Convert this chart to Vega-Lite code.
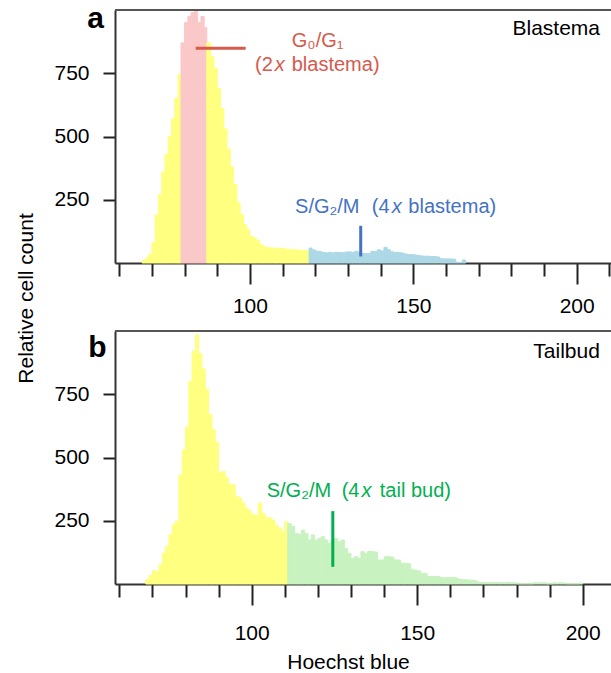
{
  "$schema": "https://vega.github.io/schema/vega-lite/v6.json",
  "padding": {"left": 15, "top": 4, "right": 0, "bottom": 0},
  "bounds": "flush",
  "spacing": 68,
  "config": {
    "font": "Liberation Sans",
    "view": {"stroke": null},
    "axis": {"grid": false, "labelFont": "Liberation Sans", "labelFontSize": 21, "labelColor": "#000", "titleFont": "Liberation Sans", "titleFontSize": 21, "titleFontWeight": "normal", "titleColor": "#000", "domainColor": "#333", "domainWidth": 2, "tickColor": "#222", "tickWidth": 2}
  },
  "resolve": {"scale": {"x": "independent", "y": "independent", "color": "independent", "stroke": "independent"}},
  "vconcat": [
    {
      "width": 496,
      "height": 253,
      "encoding": {
        "x": {"field": "x", "type": "quantitative", "scale": {"domain": [58.7, 210.5], "nice": false, "zero": false},
          "axis": {"values": [60,70,80,90,100,110,120,130,140,150,160,170,180,190,200,210], "format": "d",
            "labelExpr": "datum.value % 50 === 0 ? datum.label : ''",
            "tickSize": {"condition": {"test": "datum.value % 50 === 0", "value": 21}, "value": 13},
            "labelPadding": 11, "labelDx": -4, "title": null}},
        "y": {"field": "y", "type": "quantitative", "scale": {"domain": [0, 1000], "nice": false},
          "axis": {"values": [250, 500, 750], "tickSize": 12, "labelPadding": 14,
            "title": "Relative cell count", "titleX": -83, "titleY": 288, "titleAngle": 270, "titleAlign": "center", "titleBaseline": "alphabetic"}}
      },
      "layer": [
        {
          "data": {"values": [
            {"x":67,"x2":68,"y":10,"p":"other"},{"x":68,"x2":69,"y":20,"p":"other"},{"x":69,"x2":70,"y":34,"p":"other"},{"x":70,"x2":71,"y":80,"p":"other"},
            {"x":71,"x2":72,"y":190,"p":"other"},{"x":72,"x2":73,"y":271,"p":"other"},{"x":73,"x2":74,"y":360,"p":"other"},{"x":74,"x2":75,"y":430,"p":"other"},
            {"x":75,"x2":76,"y":500,"p":"other"},{"x":76,"x2":77,"y":570,"p":"other"},{"x":77,"x2":78,"y":650,"p":"other"},{"x":78,"x2":78.9,"y":745,"p":"other"},
            {"x":78.9,"x2":80,"y":870,"p":"G0/G1"},{"x":80,"x2":81,"y":950,"p":"G0/G1"},{"x":81,"x2":82,"y":975,"p":"G0/G1"},{"x":82,"x2":83,"y":990,"p":"G0/G1"},
            {"x":83,"x2":84,"y":995,"p":"G0/G1"},{"x":84,"x2":85,"y":950,"p":"G0/G1"},{"x":85,"x2":86,"y":975,"p":"G0/G1"},{"x":86,"x2":86.8,"y":930,"p":"G0/G1"},
            {"x":86.8,"x2":88,"y":870,"p":"other"},{"x":88,"x2":89,"y":815,"p":"other"},{"x":89,"x2":90,"y":770,"p":"other"},{"x":90,"x2":91,"y":690,"p":"other"},
            {"x":91,"x2":92,"y":610,"p":"other"},{"x":92,"x2":93,"y":530,"p":"other"},{"x":93,"x2":94,"y":450,"p":"other"},{"x":94,"x2":95,"y":380,"p":"other"},
            {"x":95,"x2":96,"y":310,"p":"other"},{"x":96,"x2":97,"y":240,"p":"other"},{"x":97,"x2":98,"y":192,"p":"other"},{"x":98,"x2":99,"y":152,"p":"other"},
            {"x":99,"x2":100,"y":131,"p":"other"},{"x":100,"x2":101,"y":105,"p":"other"},{"x":101,"x2":102,"y":99,"p":"other"},{"x":102,"x2":103,"y":88,"p":"other"},
            {"x":103,"x2":104,"y":72,"p":"other"},{"x":104,"x2":105,"y":64,"p":"other"},{"x":105,"x2":106,"y":62,"p":"other"},{"x":106,"x2":107,"y":59,"p":"other"},
            {"x":107,"x2":108,"y":59,"p":"other"},{"x":108,"x2":109,"y":58,"p":"other"},{"x":109,"x2":110,"y":58,"p":"other"},{"x":110,"x2":111,"y":57,"p":"other"},
            {"x":111,"x2":112,"y":53,"p":"other"},{"x":112,"x2":113,"y":53,"p":"other"},{"x":113,"x2":114,"y":52,"p":"other"},{"x":114,"x2":115,"y":52,"p":"other"},
            {"x":115,"x2":116,"y":50,"p":"other"},{"x":116,"x2":117,"y":50,"p":"other"},{"x":117,"x2":118.1,"y":50,"p":"other"},
            {"x":118.1,"x2":119,"y":59,"p":"S/G2/M"},{"x":119,"x2":120,"y":52,"p":"S/G2/M"},{"x":120,"x2":121,"y":47,"p":"S/G2/M"},{"x":121,"x2":122,"y":45,"p":"S/G2/M"},
            {"x":122,"x2":123,"y":42,"p":"S/G2/M"},{"x":123,"x2":124,"y":40,"p":"S/G2/M"},{"x":124,"x2":125,"y":42,"p":"S/G2/M"},{"x":125,"x2":126,"y":40,"p":"S/G2/M"},
            {"x":126,"x2":127,"y":42,"p":"S/G2/M"},{"x":127,"x2":128,"y":42,"p":"S/G2/M"},{"x":128,"x2":129,"y":41,"p":"S/G2/M"},{"x":129,"x2":130,"y":43,"p":"S/G2/M"},
            {"x":130,"x2":131,"y":44,"p":"S/G2/M"},{"x":131,"x2":132,"y":42,"p":"S/G2/M"},{"x":132,"x2":133,"y":46,"p":"S/G2/M"},{"x":133,"x2":134,"y":43,"p":"S/G2/M"},
            {"x":134,"x2":135,"y":38,"p":"S/G2/M"},{"x":135,"x2":136,"y":37,"p":"S/G2/M"},{"x":136,"x2":137,"y":37,"p":"S/G2/M"},{"x":137,"x2":138,"y":46,"p":"S/G2/M"},
            {"x":138,"x2":139,"y":46,"p":"S/G2/M"},{"x":139,"x2":140,"y":52,"p":"S/G2/M"},{"x":140,"x2":141,"y":48,"p":"S/G2/M"},{"x":141,"x2":142,"y":62,"p":"S/G2/M"},
            {"x":142,"x2":143,"y":52,"p":"S/G2/M"},{"x":143,"x2":144,"y":44,"p":"S/G2/M"},{"x":144,"x2":145,"y":42,"p":"S/G2/M"},{"x":145,"x2":146,"y":42,"p":"S/G2/M"},
            {"x":146,"x2":147,"y":40,"p":"S/G2/M"},{"x":147,"x2":148,"y":36,"p":"S/G2/M"},{"x":148,"x2":149,"y":33,"p":"S/G2/M"},{"x":149,"x2":150,"y":33,"p":"S/G2/M"},
            {"x":150,"x2":151,"y":32,"p":"S/G2/M"},{"x":151,"x2":152,"y":30,"p":"S/G2/M"},{"x":152,"x2":153,"y":28,"p":"S/G2/M"},{"x":153,"x2":154,"y":27,"p":"S/G2/M"},
            {"x":154,"x2":155,"y":27,"p":"S/G2/M"},{"x":155,"x2":156,"y":26,"p":"S/G2/M"},{"x":156,"x2":157,"y":26,"p":"S/G2/M"},{"x":157,"x2":158,"y":24,"p":"S/G2/M"},
            {"x":158,"x2":159,"y":17,"p":"S/G2/M"},{"x":159,"x2":160,"y":16,"p":"S/G2/M"},{"x":160,"x2":161,"y":16,"p":"S/G2/M"},{"x":161,"x2":162,"y":16,"p":"S/G2/M"},
            {"x":162,"x2":163,"y":15,"p":"S/G2/M"},{"x":163,"x2":164,"y":3,"p":"S/G2/M"},{"x":164,"x2":165,"y":2,"p":"S/G2/M"},{"x":165,"x2":166,"y":12,"p":"S/G2/M"}
          ]},
          "mark": {"type": "bar", "strokeWidth": 1},
          "encoding": {
            "x2": {"field": "x2"},
            "y2": {"datum": 0},
            "color": {"field": "p", "type": "nominal", "legend": null, "scale": {"domain": ["other", "G0/G1", "S/G2/M"], "range": ["#FFFF80", "#FAC8C8", "#ADD8E6"]}},
            "stroke": {"field": "p", "type": "nominal", "legend": null, "scale": {"domain": ["other", "G0/G1", "S/G2/M"], "range": ["#FFFF80", "#FAC8C8", "#ADD8E6"]}}
          }
        },
        {
          "data": {"values": [{"x": 58.7, "x2": 210.5, "y": 1000}]},
          "mark": {"type": "rule", "color": "#555", "strokeWidth": 2},
          "encoding": {"x2": {"field": "x2"}}
        },
        {
          "data": {"values": [{"x": 83.4, "x2": 98.7, "y": 849}]},
          "mark": {"type": "rule", "color": "#D65A4C", "strokeWidth": 3},
          "encoding": {"x2": {"field": "x2"}}
        },
        {
          "data": {"values": [{"x": 133.9, "y": 147, "y2": 26}]},
          "mark": {"type": "rule", "color": "#4472C4", "strokeWidth": 3},
          "encoding": {"y2": {"field": "y2"}}
        },
        {
          "data": {"values": [{"x": 112.8, "y": 854, "t": "G₀/G₁"}, {"x": 101.55, "y": 759, "t": "(2"}, {"x": 112.79, "y": 759, "t": "blastema)"}]},
          "mark": {"type": "text", "align": "left", "baseline": "alphabetic", "fontSize": 20, "color": "#D65A4C"},
          "encoding": {"text": {"field": "t"}}
        },
        {
          "data": {"values": [{"x": 107.6, "y": 759, "t": "x"}]},
          "mark": {"type": "text", "align": "left", "baseline": "alphabetic", "fontSize": 20, "fontStyle": "italic", "color": "#D65A4C"},
          "encoding": {"text": {"field": "t"}}
        },
        {
          "data": {"values": [{"x": 113.8, "y": 198.6, "t": "S/G₂/M"}, {"x": 137.27, "y": 198.6, "t": "(4"}, {"x": 148.48, "y": 198.6, "t": "blastema)"}]},
          "mark": {"type": "text", "align": "left", "baseline": "alphabetic", "fontSize": 20, "color": "#4472C4"},
          "encoding": {"text": {"field": "t"}}
        },
        {
          "data": {"values": [{"x": 143.4, "y": 198.6, "t": "x"}]},
          "mark": {"type": "text", "align": "left", "baseline": "alphabetic", "fontSize": 20, "fontStyle": "italic", "color": "#4472C4"},
          "encoding": {"text": {"field": "t"}}
        },
        {
          "data": {"values": [{"x": 207.15, "y": 901, "t": "Blastema"}]},
          "mark": {"type": "text", "align": "right", "baseline": "alphabetic", "fontSize": 21, "color": "#000"},
          "encoding": {"text": {"field": "t"}}
        },
        {
          "data": {"values": [{"x": 50.2, "y": 928, "t": "a"}]},
          "mark": {"type": "text", "align": "left", "baseline": "alphabetic", "fontSize": 30, "fontWeight": "bold", "color": "#000"},
          "encoding": {"text": {"field": "t"}}
        }
      ]
    },
    {
      "width": 496,
      "height": 253,
      "encoding": {
        "x": {"field": "x", "type": "quantitative", "scale": {"domain": [58.7, 208.55], "nice": false, "zero": false},
          "axis": {"values": [60,70,80,90,100,110,120,130,140,150,160,170,180,190,200], "format": "d",
            "labelExpr": "datum.value % 50 === 0 ? datum.label : ''",
            "tickSize": {"condition": {"test": "datum.value % 50 === 0", "value": 21}, "value": 13},
            "labelPadding": 17, "labelDx": -4,
            "title": "Hoechst blue", "titleX": 233, "titleY": 84, "titleAlign": "center", "titleBaseline": "alphabetic"}},
        "y": {"field": "y", "type": "quantitative", "scale": {"domain": [0, 1000], "nice": false},
          "axis": {"values": [250, 500, 750], "tickSize": 12, "labelPadding": 14, "title": null}}
      },
      "layer": [
        {
          "data": {"values": [
            {"x":68,"x2":69,"y":17,"p":"other"},{"x":69,"x2":70,"y":34,"p":"other"},{"x":70,"x2":71,"y":53,"p":"other"},{"x":71,"x2":72,"y":48,"p":"other"},
            {"x":72,"x2":73,"y":76,"p":"other"},{"x":73,"x2":74,"y":122,"p":"other"},{"x":74,"x2":75,"y":149,"p":"other"},{"x":75,"x2":76,"y":195,"p":"other"},
            {"x":76,"x2":77,"y":234,"p":"other"},{"x":77,"x2":78,"y":248,"p":"other"},{"x":78,"x2":79,"y":430,"p":"other"},{"x":79,"x2":80,"y":530,"p":"other"},
            {"x":80,"x2":81,"y":620,"p":"other"},{"x":81,"x2":82,"y":800,"p":"other"},{"x":82,"x2":83,"y":920,"p":"other"},{"x":83,"x2":84,"y":985,"p":"other"},
            {"x":84,"x2":85,"y":910,"p":"other"},{"x":85,"x2":86,"y":850,"p":"other"},{"x":86,"x2":87,"y":770,"p":"other"},{"x":87,"x2":88,"y":670,"p":"other"},
            {"x":88,"x2":89,"y":610,"p":"other"},{"x":89,"x2":90,"y":560,"p":"other"},{"x":90,"x2":91,"y":440,"p":"other"},{"x":91,"x2":92,"y":445,"p":"other"},
            {"x":92,"x2":93,"y":420,"p":"other"},{"x":93,"x2":94,"y":392,"p":"other"},{"x":94,"x2":95,"y":392,"p":"other"},{"x":95,"x2":96,"y":347,"p":"other"},
            {"x":96,"x2":97,"y":340,"p":"other"},{"x":97,"x2":98,"y":320,"p":"other"},{"x":98,"x2":99,"y":300,"p":"other"},{"x":99,"x2":100,"y":288,"p":"other"},
            {"x":100,"x2":101,"y":275,"p":"other"},{"x":101,"x2":102,"y":270,"p":"other"},{"x":102,"x2":103,"y":320,"p":"other"},{"x":103,"x2":104,"y":279,"p":"other"},
            {"x":104,"x2":105,"y":262,"p":"other"},{"x":105,"x2":106,"y":262,"p":"other"},{"x":106,"x2":107,"y":253,"p":"other"},{"x":107,"x2":108,"y":233,"p":"other"},
            {"x":108,"x2":109,"y":220,"p":"other"},{"x":109,"x2":110,"y":207,"p":"other"},{"x":110,"x2":110.9,"y":246,"p":"other"},
            {"x":110.9,"x2":112,"y":238,"p":"S/G2/M"},{"x":112,"x2":113,"y":228,"p":"S/G2/M"},{"x":113,"x2":114,"y":200,"p":"S/G2/M"},{"x":114,"x2":115,"y":196,"p":"S/G2/M"},
            {"x":115,"x2":116,"y":213,"p":"S/G2/M"},{"x":116,"x2":117,"y":200,"p":"S/G2/M"},{"x":117,"x2":118,"y":174,"p":"S/G2/M"},{"x":118,"x2":119,"y":194,"p":"S/G2/M"},
            {"x":119,"x2":120,"y":174,"p":"S/G2/M"},{"x":120,"x2":121,"y":180,"p":"S/G2/M"},{"x":121,"x2":122,"y":187,"p":"S/G2/M"},{"x":122,"x2":123,"y":174,"p":"S/G2/M"},
            {"x":123,"x2":124,"y":161,"p":"S/G2/M"},{"x":124,"x2":125,"y":170,"p":"S/G2/M"},{"x":125,"x2":126,"y":180,"p":"S/G2/M"},{"x":126,"x2":127,"y":167,"p":"S/G2/M"},
            {"x":127,"x2":128,"y":174,"p":"S/G2/M"},{"x":128,"x2":129,"y":141,"p":"S/G2/M"},{"x":129,"x2":130,"y":121,"p":"S/G2/M"},{"x":130,"x2":131,"y":101,"p":"S/G2/M"},
            {"x":131,"x2":132,"y":108,"p":"S/G2/M"},{"x":132,"x2":133,"y":101,"p":"S/G2/M"},{"x":133,"x2":134,"y":128,"p":"S/G2/M"},{"x":134,"x2":135,"y":121,"p":"S/G2/M"},
            {"x":135,"x2":136,"y":128,"p":"S/G2/M"},{"x":136,"x2":137,"y":128,"p":"S/G2/M"},{"x":137,"x2":138,"y":126,"p":"S/G2/M"},{"x":138,"x2":139,"y":95,"p":"S/G2/M"},
            {"x":139,"x2":140,"y":95,"p":"S/G2/M"},{"x":140,"x2":141,"y":108,"p":"S/G2/M"},{"x":141,"x2":142,"y":108,"p":"S/G2/M"},{"x":142,"x2":143,"y":106,"p":"S/G2/M"},
            {"x":143,"x2":144,"y":95,"p":"S/G2/M"},{"x":144,"x2":145,"y":95,"p":"S/G2/M"},{"x":145,"x2":146,"y":82,"p":"S/G2/M"},{"x":146,"x2":147,"y":82,"p":"S/G2/M"},
            {"x":147,"x2":148,"y":80,"p":"S/G2/M"},{"x":148,"x2":149,"y":58,"p":"S/G2/M"},{"x":149,"x2":150,"y":55,"p":"S/G2/M"},{"x":150,"x2":151,"y":52,"p":"S/G2/M"},
            {"x":151,"x2":152,"y":43,"p":"S/G2/M"},{"x":152,"x2":153,"y":42,"p":"S/G2/M"},{"x":153,"x2":154,"y":30,"p":"S/G2/M"},{"x":154,"x2":155,"y":30,"p":"S/G2/M"},
            {"x":155,"x2":156,"y":30,"p":"S/G2/M"},{"x":156,"x2":157,"y":29,"p":"S/G2/M"},{"x":157,"x2":158,"y":25,"p":"S/G2/M"},{"x":158,"x2":159,"y":25,"p":"S/G2/M"},
            {"x":159,"x2":160,"y":25,"p":"S/G2/M"},{"x":160,"x2":161,"y":26,"p":"S/G2/M"},{"x":161,"x2":162,"y":26,"p":"S/G2/M"},{"x":162,"x2":163,"y":20,"p":"S/G2/M"},
            {"x":163,"x2":164,"y":17,"p":"S/G2/M"},{"x":164,"x2":165,"y":17,"p":"S/G2/M"},{"x":165,"x2":166,"y":16,"p":"S/G2/M"},{"x":166,"x2":167,"y":15,"p":"S/G2/M"},
            {"x":167,"x2":168,"y":13,"p":"S/G2/M"},{"x":168,"x2":169,"y":8,"p":"S/G2/M"},{"x":169,"x2":170,"y":7,"p":"S/G2/M"},{"x":170,"x2":171,"y":5,"p":"S/G2/M"},
            {"x":171,"x2":172,"y":6,"p":"S/G2/M"},{"x":172,"x2":173,"y":6,"p":"S/G2/M"},{"x":173,"x2":174,"y":5,"p":"S/G2/M"},{"x":174,"x2":175,"y":6,"p":"S/G2/M"},
            {"x":175,"x2":176,"y":5,"p":"S/G2/M"},{"x":176,"x2":177,"y":5,"p":"S/G2/M"},{"x":177,"x2":178,"y":6,"p":"S/G2/M"},{"x":178,"x2":179,"y":5,"p":"S/G2/M"},
            {"x":179,"x2":180,"y":5,"p":"S/G2/M"},{"x":180,"x2":181,"y":1,"p":"S/G2/M"},{"x":181,"x2":182,"y":1,"p":"S/G2/M"},{"x":182,"x2":183,"y":1,"p":"S/G2/M"},
            {"x":183,"x2":184,"y":1,"p":"S/G2/M"},{"x":184,"x2":185,"y":1,"p":"S/G2/M"},{"x":185,"x2":186,"y":5,"p":"S/G2/M"},{"x":186,"x2":187,"y":5,"p":"S/G2/M"},
            {"x":187,"x2":188,"y":4,"p":"S/G2/M"},{"x":188,"x2":189,"y":5,"p":"S/G2/M"},{"x":189,"x2":190,"y":1,"p":"S/G2/M"},{"x":190,"x2":191,"y":1,"p":"S/G2/M"},
            {"x":191,"x2":192,"y":5,"p":"S/G2/M"},{"x":192,"x2":193,"y":4,"p":"S/G2/M"},{"x":193,"x2":194,"y":5,"p":"S/G2/M"},{"x":194,"x2":195,"y":4,"p":"S/G2/M"},
            {"x":195,"x2":196,"y":1,"p":"S/G2/M"},{"x":196,"x2":197,"y":1,"p":"S/G2/M"},{"x":197,"x2":198,"y":1,"p":"S/G2/M"},{"x":198,"x2":199,"y":1,"p":"S/G2/M"},
            {"x":199,"x2":200,"y":4,"p":"S/G2/M"}
          ]},
          "mark": {"type": "bar", "strokeWidth": 1},
          "encoding": {
            "x2": {"field": "x2"},
            "y2": {"datum": 0},
            "color": {"field": "p", "type": "nominal", "legend": null, "scale": {"domain": ["other", "S/G2/M"], "range": ["#FFFF80", "#C9F2C1"]}},
            "stroke": {"field": "p", "type": "nominal", "legend": null, "scale": {"domain": ["other", "S/G2/M"], "range": ["#FFFF80", "#C9F2C1"]}}
          }
        },
        {
          "data": {"values": [{"x": 58.7, "x2": 208.55, "y": 1000}]},
          "mark": {"type": "rule", "color": "#555", "strokeWidth": 2},
          "encoding": {"x2": {"field": "x2"}}
        },
        {
          "data": {"values": [{"x": 124.5, "y": 288, "y2": 68}]},
          "mark": {"type": "rule", "color": "#00B050", "strokeWidth": 3},
          "encoding": {"y2": {"field": "y2"}}
        },
        {
          "data": {"values": [{"x": 104.53, "y": 344, "t": "S/G₂/M"}, {"x": 127.19, "y": 344, "t": "(4"}, {"x": 138.7, "y": 344, "t": "tail bud)"}]},
          "mark": {"type": "text", "align": "left", "baseline": "alphabetic", "fontSize": 20, "color": "#00B050"},
          "encoding": {"text": {"field": "t"}}
        },
        {
          "data": {"values": [{"x": 133.2, "y": 344, "t": "x"}]},
          "mark": {"type": "text", "align": "left", "baseline": "alphabetic", "fontSize": 20, "fontStyle": "italic", "color": "#00B050"},
          "encoding": {"text": {"field": "t"}}
        },
        {
          "data": {"values": [{"x": 205.2, "y": 892, "t": "Tailbud"}]},
          "mark": {"type": "text", "align": "right", "baseline": "alphabetic", "fontSize": 21, "color": "#000"},
          "encoding": {"text": {"field": "t"}}
        },
        {
          "data": {"values": [{"x": 50.63, "y": 898, "t": "b"}]},
          "mark": {"type": "text", "align": "left", "baseline": "alphabetic", "fontSize": 30, "fontWeight": "bold", "color": "#000"},
          "encoding": {"text": {"field": "t"}}
        }
      ]
    }
  ]
}
